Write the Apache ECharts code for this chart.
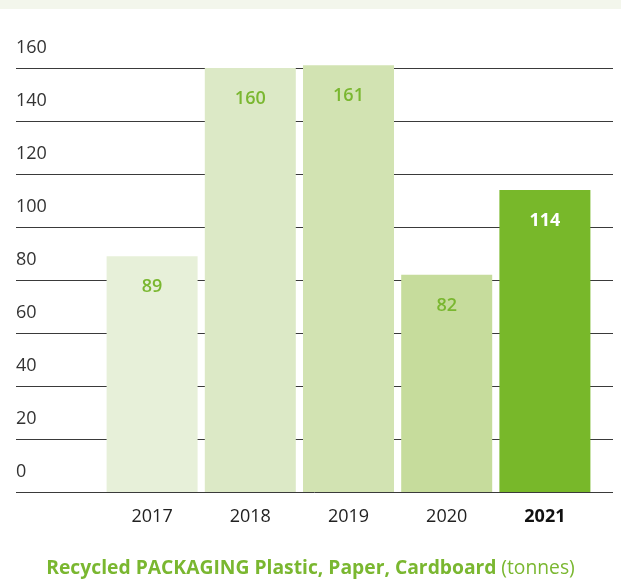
<!DOCTYPE html>
<html>
<head>
<meta charset="utf-8">
<script src="https://cdn.jsdelivr.net/npm/echarts@6/dist/echarts.min.js"></script>
<style>
html,body{margin:0;padding:0;background:#fff;}
#band{position:absolute;left:0;top:0;width:621px;height:9px;background:#f3f6ec;}
#chart{width:621px;height:585px;}
</style>
</head>
<body>
<div id="band"></div>
<div id="chart"></div>
<script>
var categories = ['2017', '2018', '2019', '2020', '2021'];
var values = [89, 160, 161, 82, 114];
var barColors = ['#e7f0d9', '#dce9c6', '#d2e3b2', '#c6dc9c', '#78b82a'];
var labelColors = ['#7ab730', '#7ab730', '#7ab730', '#7ab730', '#ffffff'];
var yTicks = [0, 20, 40, 60, 80, 100, 120, 140, 160];
var titleBold = 'Recycled PACKAGING Plastic, Paper, Cardboard';
var titleUnit = '(tonnes)';

var FONT = 'Open Sans';
var chart = echarts.init(document.getElementById('chart'));
chart.setOption({
  animation: false,
  backgroundColor: 'transparent',
  textStyle: { fontFamily: FONT },
  title: {
    text: '{b|' + titleBold + '} {n|' + titleUnit + '}',
    left: 'center',
    top: 554,
    textStyle: {
      rich: {
        b: { fontFamily: FONT, fontSize: 19.3, fontWeight: 'bold', color: '#7ab730' },
        n: { fontFamily: FONT, fontSize: 19.3, fontWeight: 'normal', color: '#7ab730' }
      }
    }
  },
  grid: [
    { left: 16, right: 8, top: 68, bottom: 93 },
    { left: 103, right: 27, top: 68, bottom: 93 }
  ],
  xAxis: [
    { type: 'value', gridIndex: 0, show: false, min: 0, max: 1 },
    {
      type: 'category', gridIndex: 1, data: categories,
      axisLine: { show: false }, axisTick: { show: false },
      axisLabel: {
        interval: 0, margin: 16, fontSize: 18, color: '#222', fontFamily: FONT,
        formatter: function (v, i) { return i === categories.length - 1 ? '{b|' + v + '}' : v; },
        rich: { b: { fontSize: 18, fontWeight: 'bold', color: '#111', fontFamily: FONT } }
      }
    }
  ],
  yAxis: [
    {
      type: 'value', gridIndex: 0, min: 0, max: 160, interval: 20,
      axisLine: { show: false }, axisTick: { show: false },
      splitLine: { show: true, lineStyle: { color: '#3a3a3a', width: 1 } },
      axisLabel: {
        inside: true, fontSize: 18, color: '#333', fontFamily: FONT,
        verticalAlign: 'bottom', align: 'left', margin: 0, padding: [0, 0, 11, 0],
        formatter: function (v) { return yTicks.indexOf(v) >= 0 ? String(v) : ''; }
      }
    },
    { type: 'value', gridIndex: 1, min: 0, max: 160, interval: 20, show: false, splitLine: { show: false } }
  ],
  series: [{
    type: 'bar', xAxisIndex: 1, yAxisIndex: 1, barWidth: 91, z: 3, clip: false,
    data: values.map(function (v, i) {
      return {
        value: v,
        itemStyle: { color: barColors[i] },
        label: {
          color: labelColors[i],
          fontWeight: i === values.length - 1 ? 'bold' : 600
        }
      };
    }),
    label: {
      show: true, position: 'insideTop', distance: 22, fontSize: 18, fontFamily: FONT
    }
  }]
});
</script>
</body>
</html>
